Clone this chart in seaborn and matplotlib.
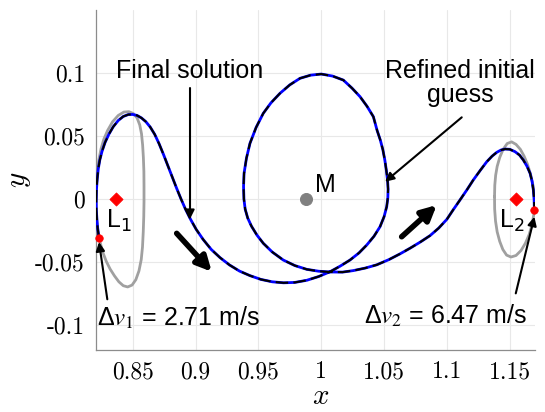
import matplotlib
matplotlib.use("Agg")
import matplotlib.pyplot as plt
import seaborn as sns
import pandas as pd

# ---- data -------------------------------------------------------------
# transfer trajectory from the L1 Lyapunov orbit to the L2 Lyapunov orbit
traj_x = [0.8232, 0.8222, 0.8216, 0.8211, 0.8210, 0.8212, 0.8218, 0.8226, 0.8238, 0.8256,
          0.8280, 0.8310, 0.8345, 0.8385, 0.8425, 0.8465, 0.8500, 0.8535, 0.8570, 0.8605,
          0.8640, 0.8675, 0.8710, 0.8745, 0.8780, 0.8815, 0.8850, 0.8885, 0.8920, 0.8960,
          0.9005, 0.9060, 0.9125, 0.9195, 0.9270, 0.9350, 0.9433, 0.9520, 0.9610, 0.9700,
          0.9790, 0.9885, 0.9980, 1.0070, 1.0150, 1.0229, 1.0300, 1.0362, 1.0420, 1.0468,
          1.0500, 1.0521, 1.0530, 1.0532, 1.0528, 1.0518, 1.0506, 1.0490, 1.0470, 1.0445,
          1.0415, 1.0365, 1.0309, 1.0245, 1.0176, 1.0090, 1.0000, 0.9915, 0.9831, 0.9750,
          0.9672, 0.9600, 0.9539, 0.9482, 0.9433, 0.9405, 0.9386, 0.9382, 0.9385, 0.9395,
          0.9415, 0.9445, 0.9488, 0.9539, 0.9610, 0.9698, 0.9790, 0.9885, 0.9980, 1.0070,
          1.0170, 1.0255, 1.0350, 1.0442, 1.0540, 1.0627, 1.0707, 1.0790, 1.0866, 1.0935,
          1.1000, 1.1050, 1.1104, 1.1160, 1.1210, 1.1265, 1.1317, 1.1360, 1.1397, 1.1430,
          1.1463, 1.1500, 1.1542, 1.1578, 1.1608, 1.1637, 1.1662, 1.1678, 1.1688, 1.1694,
          1.1696]
traj_y = [-0.0307, -0.0240, -0.0170, -0.0090, -0.0010, 0.0080, 0.0160, 0.0240, 0.0310, 0.0380,
          0.0450, 0.0515, 0.0575, 0.0625, 0.0657, 0.0672, 0.0673, 0.0665, 0.0645, 0.0615,
          0.0572, 0.0515, 0.0440, 0.0355, 0.0265, 0.0175, 0.0085, 0.0000, -0.0080, -0.0160,
          -0.0240, -0.0320, -0.0400, -0.0465, -0.0523, -0.0572, -0.0608, -0.0638, -0.0657, -0.0665,
          -0.0662, -0.0645, -0.0615, -0.0577, -0.0533, -0.0484, -0.0428, -0.0365, -0.0295, -0.0219,
          -0.0140, -0.0060, 0.0010, 0.0080, 0.0150, 0.0230, 0.0311, 0.0395, 0.0470, 0.0545,
          0.0655, 0.0737, 0.0814, 0.0882, 0.0946, 0.0978, 0.0994, 0.0985, 0.0960, 0.0908,
          0.0841, 0.0765, 0.0682, 0.0570, 0.0443, 0.0325, 0.0205, 0.0100, 0.0000, -0.0080,
          -0.0150, -0.0215, -0.0285, -0.0351, -0.0420, -0.0484, -0.0528, -0.0558, -0.0573, -0.0579,
          -0.0580, -0.0568, -0.0548, -0.0522, -0.0480, -0.0435, -0.0390, -0.0340, -0.0290, -0.0230,
          -0.0160, -0.0085, -0.0007, 0.0075, 0.0152, 0.0228, 0.0297, 0.0342, 0.0372, 0.0390,
          0.0398, 0.0396, 0.0377, 0.0350, 0.0311, 0.0262, 0.0205, 0.0140, 0.0072, -0.0005,
          -0.0087]

# Lyapunov orbit around L1
lyap1_x = [0.8205, 0.8207, 0.8212, 0.8220, 0.8232, 0.8248, 0.8270, 0.8300, 0.8340, 0.8385,
           0.8430, 0.8470, 0.8505, 0.8535, 0.8556, 0.8570, 0.8579, 0.8585, 0.8589, 0.8590,
           0.8590, 0.8588, 0.8584, 0.8578, 0.8568, 0.8550, 0.8525, 0.8495, 0.8460, 0.8425,
           0.8390, 0.8355, 0.8320, 0.8290, 0.8265, 0.8245, 0.8228, 0.8216, 0.8208, 0.8205]
lyap1_y = [-0.0007, 0.0080, 0.0160, 0.0240, 0.0320, 0.0400, 0.0475, 0.0545, 0.0615, 0.0665,
           0.0692, 0.0695, 0.0680, 0.0645, 0.0590, 0.0520, 0.0430, 0.0330, 0.0220, 0.0100,
           -0.0020, -0.0140, -0.0260, -0.0380, -0.0480, -0.0570, -0.0640, -0.0683, -0.0698, -0.0688,
           -0.0657, -0.0610, -0.0555, -0.0495, -0.0430, -0.0360, -0.0280, -0.0190, -0.0100, -0.0007]

# Lyapunov orbit around L2
lyap2_x = [1.1379, 1.1381, 1.1388, 1.1400, 1.1420, 1.1447, 1.1480, 1.1515, 1.1550, 1.1585,
           1.1615, 1.1642, 1.1665, 1.1683, 1.1695, 1.1698, 1.1692, 1.1678, 1.1655, 1.1625,
           1.1590, 1.1550, 1.1510, 1.1475, 1.1445, 1.1420, 1.1400, 1.1387, 1.1380, 1.1379]
lyap2_y = [0.0019, 0.0110, 0.0190, 0.0260, 0.0330, 0.0395, 0.0442, 0.0455, 0.0435, 0.0395,
           0.0340, 0.0275, 0.0200, 0.0120, 0.0040, -0.0040, -0.0120, -0.0200, -0.0280, -0.0350,
           -0.0408, -0.0448, -0.0460, -0.0445, -0.0400, -0.0335, -0.0260, -0.0175, -0.0080, 0.0019]

# libration points, Moon and manoeuvre points
lpoint_x = [0.8365, 1.1550]
lpoint_y = [0.0, 0.0]
moon_x, moon_y = [0.9878], [0.0]
burn_x = [0.8232, 1.1696]
burn_y = [-0.0307, -0.0087]
dv_values = [2.71, 6.47]

xticks = [0.85, 0.9, 0.95, 1.0, 1.05, 1.1, 1.15]
xticklabels = ["0.85", "0.9", "0.95", "1", "1.05", "1.1", "1.15"]
yticks = [-0.1, -0.05, 0.0, 0.05, 0.1]
yticklabels = ["-0.1", "-0.05", "0", "0.05", "0.1"]

# ---- style ------------------------------------------------------------
sns.set_style("white")
plt.rcParams["font.family"] = ["Liberation Sans", "DejaVu Sans"]
plt.rcParams["text.color"] = "black"
SANS = 18

fig = plt.figure(figsize=(5.45, 4.12), dpi=100)
ax = fig.add_axes([96 / 545, 62 / 412, 439 / 545, 340 / 412])

traj = pd.DataFrame({"x": traj_x, "y": traj_y})
l1 = pd.DataFrame({"x": lyap1_x, "y": lyap1_y})
l2 = pd.DataFrame({"x": lyap2_x, "y": lyap2_y})

for orb in (l1, l2):
    sns.lineplot(data=orb, x="x", y="y", sort=False, estimator=None, ax=ax,
                 color="#a0a0a0", lw=2.0, zorder=2)

sns.lineplot(data=traj, x="x", y="y", sort=False, estimator=None, ax=ax,
             color="#0000ff", lw=2.0, zorder=3)
sns.lineplot(data=traj, x="x", y="y", sort=False, estimator=None, ax=ax,
             color="black", lw=1.5, zorder=4)
ax.lines[-1].set_linestyle((0, (6, 2.5)))

sns.scatterplot(x=lpoint_x, y=lpoint_y, marker="D", s=45, color="red",
                edgecolor="red", ax=ax, zorder=5)
sns.scatterplot(x=moon_x, y=moon_y, marker="o", s=75, color="#808080",
                edgecolor="#808080", ax=ax, zorder=5)
sns.scatterplot(x=burn_x, y=burn_y, marker="o", s=30, color="red",
                edgecolor="red", ax=ax, zorder=6, clip_on=False)

# ---- axes -------------------------------------------------------------
ax.set_xlim(0.8208, 1.1701)
ax.set_ylim(-0.1199, 0.1503)
ax.set_xticks(xticks)
ax.set_xticklabels(xticklabels)
ax.set_yticks(yticks)
ax.set_yticklabels(yticklabels)
for lab in ax.get_xticklabels() + ax.get_yticklabels():
    lab.set_fontfamily("cmr10")
    lab.set_fontsize(17)
    lab.set_color("black")
ax.tick_params(direction="in", length=4, width=0.8, color="#808080", pad=8)
ax.grid(True, color="#e8e8e8", lw=0.8, zorder=0)
ax.set_axisbelow(True)
for side in ("top", "right"):
    ax.spines[side].set_visible(False)
for side in ("left", "bottom"):
    ax.spines[side].set_color("#8c8c8c")
    ax.spines[side].set_linewidth(0.9)

ax.set_xlabel(r"$x$", fontsize=21, math_fontfamily="cm", color="black")
ax.set_ylabel(r"$y$", fontsize=21, math_fontfamily="cm", color="black")
ax.xaxis.set_label_coords(0.512, -0.095)
ax.yaxis.set_label_coords(-0.143, 0.5)

# ---- annotations ------------------------------------------------------
thin = dict(arrowstyle="-|>", lw=1.5, color="black", mutation_scale=13,
            shrinkA=0, shrinkB=0)
thick = dict(arrowstyle="-|>", lw=4, color="black", mutation_scale=22,
             shrinkA=0, shrinkB=0)

ax.text(0.8956, 0.1018, "Final solution", fontsize=SANS, ha="center", va="center")
ax.annotate("", xy=(0.8956, -0.0158), xytext=(0.8956, 0.0883), arrowprops=thin)

ax.text(1.1104, 0.0922, "Refined initial\nguess", fontsize=SANS, ha="center",
        va="center", linespacing=1.0, clip_on=False)
ax.annotate("", xy=(1.0508, 0.0138), xytext=(1.1118, 0.0650), arrowprops=thin)

ax.text(0.8216, -0.0945, "Δ$v_1$ = %.2f m/s" % dv_values[0], fontsize=SANS,
        ha="left", va="center", math_fontfamily="stix")
ax.annotate("", xy=(0.8232, -0.0341), xytext=(0.8298, -0.0796), arrowprops=thin,
            annotation_clip=False)

ax.text(1.1642, -0.0929, "Δ$v_2$ = %.2f m/s" % dv_values[1], fontsize=SANS,
        ha="right", va="center", math_fontfamily="stix")
ax.annotate("", xy=(1.1696, -0.0140), xytext=(1.1548, -0.0749), arrowprops=thin,
            annotation_clip=False)

ax.annotate("", xy=(0.9129, -0.0577), xytext=(0.8850, -0.0272), arrowprops=thick)
ax.annotate("", xy=(1.0919, -0.0047), xytext=(1.0640, -0.0299), arrowprops=thick)

ax.text(0.8391, -0.0174, r"L$_1$", fontsize=SANS, ha="center", va="center")
ax.text(1.1518, -0.0174, r"L$_2$", fontsize=SANS, ha="center", va="center")
ax.text(1.0030, 0.0112, "M", fontsize=SANS, ha="center", va="center")

fig.savefig("out.png", dpi=100)
